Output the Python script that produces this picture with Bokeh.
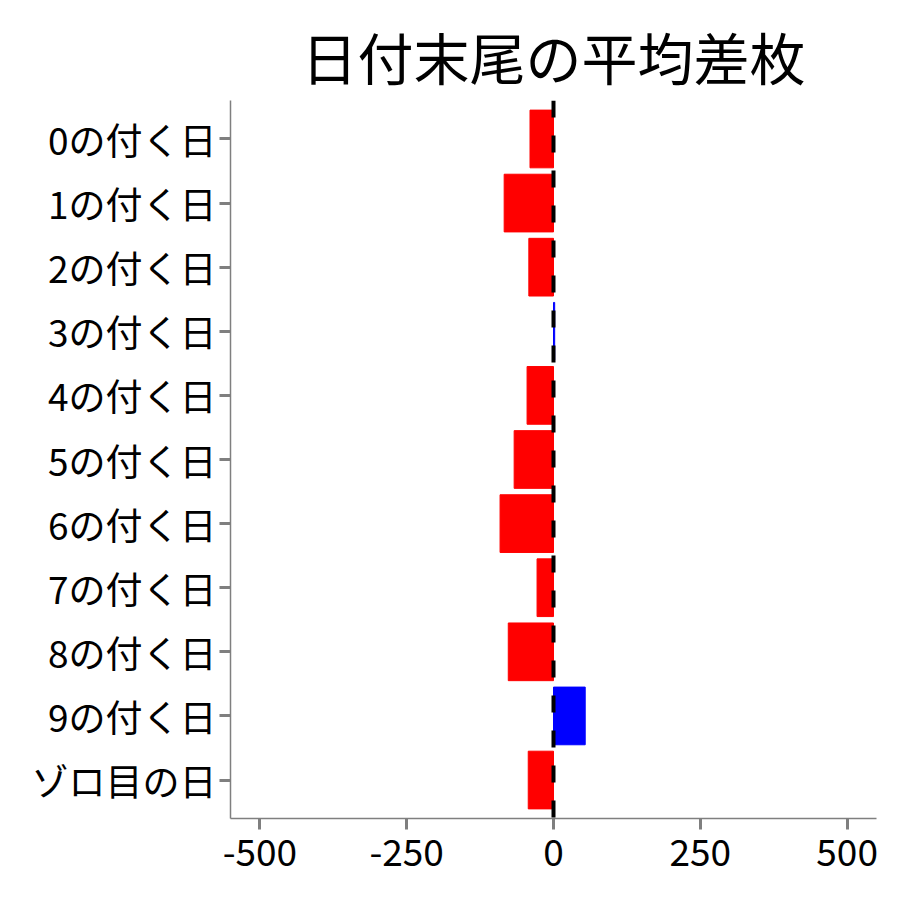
from bokeh.embed import file_html
from bokeh.models import ColumnDataSource, FactorRange, FixedTicker, PrintfTickFormatter, Range1d, Span
from bokeh.plotting import figure
from bokeh.resources import INLINE

# categories from top to bottom, as in the reference
CATEGORIES = [
    "0の付く日", "1の付く日", "2の付く日", "3の付く日", "4の付く日", "5の付く日",
    "6の付く日", "7の付く日", "8の付く日", "9の付く日", "ゾロ目の日",
]

# mean difference per category
MEAN_DIFF = [-40, -84, -42, 2, -45, -67, -91, -28, -77, 54, -43]

X_TICKS = [-500, -250, 0, 250, 500]

FONT = "Noto Sans CJK JP"
AXIS_GREY = "#7f7f7f"

# colour bars by sign
colors = ["blue" if v > 0 else "red" for v in MEAN_DIFF]
source = ColumnDataSource(data={"cat": CATEGORIES, "val": MEAN_DIFF, "color": colors})

p = figure(
    width=892,
    height=892,
    y_range=FactorRange(*reversed(CATEGORIES), range_padding=0.1, range_padding_units="absolute"),
    x_range=Range1d(-550, 550),
    title="日付末尾の平均差枚",
    output_backend="svg",
    toolbar_location=None,
    min_border_left=230,
    min_border_right=16,
    min_border_top=100,
    min_border_bottom=74,
)

p.hbar(y="cat", left=0, right="val", height=0.9, color="color", source=source)

# dashed zero line
p.add_layout(Span(location=0, dimension="height", line_color="black",
                  line_width=4, line_dash="17 18"))

# title
p.title.text_font = FONT
p.title.text_font_size = "56px"
p.title.text_font_style = "normal"
p.title.align = "center"
p.title.text_color = "black"

# axes
for ax in (p.xaxis[0], p.yaxis[0]):
    ax.axis_line_color = AXIS_GREY
    ax.axis_line_width = 1.5
    ax.major_tick_line_color = AXIS_GREY
    ax.major_tick_line_width = 3
    ax.major_tick_in = 0
    ax.major_tick_out = 11
    ax.minor_tick_line_color = None
    ax.major_label_text_font = FONT
    ax.major_label_text_font_size = "37px"
    ax.major_label_text_color = "black"

p.xaxis.ticker = FixedTicker(ticks=X_TICKS)
p.xaxis.formatter = PrintfTickFormatter(format="%d")
p.xaxis.major_label_standoff = 9
p.yaxis.major_label_standoff = 3

p.xgrid.grid_line_color = None
p.ygrid.grid_line_color = None
p.outline_line_color = None

open("out.html", "w").write(file_html(p, INLINE))
